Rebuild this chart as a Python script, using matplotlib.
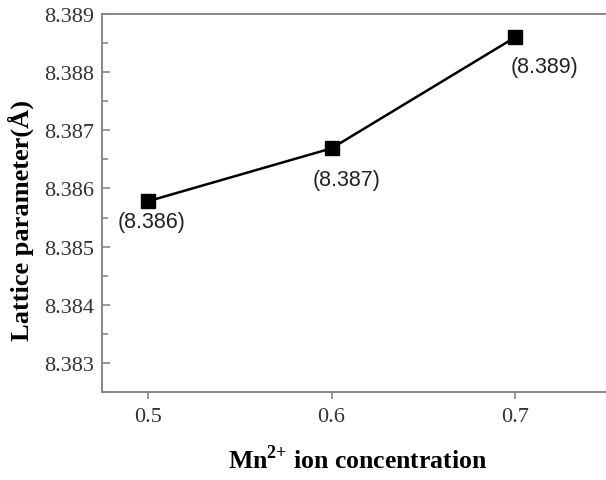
import numpy as np
import matplotlib
matplotlib.use('Agg')
import matplotlib.pyplot as plt
from matplotlib.ticker import MultipleLocator

conc = [0.5, 0.6, 0.7]
lattice = [8.38578, 8.38669, 8.38860]
labels = ['(8.386)', '(8.387)', '(8.389)']
label_offsets = [(4, -20), (15, -31), (29, -29)]  # pixels

plt.rcParams['font.family'] = 'Liberation Serif'
plt.rcParams['mathtext.fontset'] = 'custom'
plt.rcParams['mathtext.rm'] = 'Liberation Serif'
plt.rcParams['mathtext.bf'] = 'Liberation Serif:bold'

fig = plt.figure(figsize=(6.06, 4.81), dpi=100)
ax = fig.add_axes([102/606, 1-393/481, 505/606, 378/481])

ax.plot(conc, lattice, color='k', lw=1.8, marker='s', ms=9.5, mfc='k', mec='k')
for x, y, t, off in zip(conc, lattice, labels, label_offsets):
    ax.annotate(t, (x, y), xytext=off, textcoords='offset pixels',
                ha='center', va='center', fontsize=15.5, family='Liberation Sans',
                color='#222222')

ax.set_xlim(0.475, 0.75)
ax.set_ylim(8.3825, 8.389)
ax.set_xticks(conc)
ax.xaxis.set_major_formatter(plt.FormatStrFormatter('%.1f'))
ax.yaxis.set_major_locator(MultipleLocator(0.001))
ax.yaxis.set_minor_locator(MultipleLocator(0.0005))
ax.yaxis.set_major_formatter(plt.FormatStrFormatter('%.3f'))

for s in ax.spines.values():
    s.set_color('#888888')
    s.set_linewidth(1.4)
ax.spines['right'].set_visible(False)

ax.tick_params(axis='y', which='both', direction='in', color='#888888',
               labelsize=16, pad=6, right=False, labelcolor='#333333')
ax.tick_params(axis='y', which='major', length=6, width=1.2)
ax.tick_params(axis='y', which='minor', length=4, width=1.2)
ax.tick_params(axis='x', direction='out', length=5, width=1.2, color='#888888',
               labelsize=16, pad=6, labelcolor='#333333')

ax.set_ylabel('Lattice parameter(Å)', fontsize=19, fontweight='bold')
ax.yaxis.set_label_coords(-(102-34)/505, (393-221)/378)
ax.set_xlabel(r'Mn$^{\mathbf{2{+}}}$ ion concentration', fontsize=18.5,
              fontweight='bold')
ax.xaxis.set_label_coords((358-102)/505, -(445-393)/378)

fig.savefig('out.png', dpi=100)
